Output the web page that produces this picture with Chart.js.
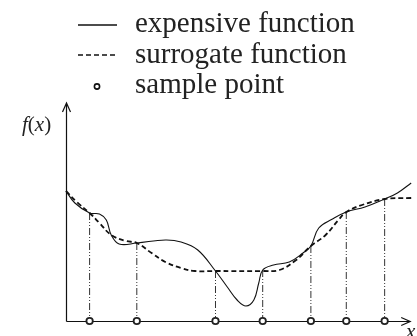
<!DOCTYPE html>
<html>
<head>
<meta charset="utf-8">
<script src="https://cdn.jsdelivr.net/npm/chart.js@4/dist/chart.umd.min.js"></script>
<style>
  html, body { margin: 0; padding: 0; background: #fff; }
  #wrap { position: relative; width: 417px; height: 336px; overflow: hidden; }
  #c { position: absolute; left: 0; top: 0; }
  .lbl { position: absolute; font-family: "Liberation Serif", "DejaVu Serif", serif; color: #222; white-space: nowrap; }
  #legend { position: absolute; left: 0; top: 7px; }
  .row { position: relative; height: 30.5px; line-height: 30.5px; font-size: 29px; font-family: "Liberation Serif", serif; color: #222; }
  .row span { position: absolute; left: 135px; top: 0; white-space: nowrap; }
  .row svg { position: absolute; left: 76px; top: 0; }
</style>
</head>
<body>
<div id="wrap">
  <canvas id="c" width="417" height="336"></canvas>
  <div id="legend">
    <div class="row"><svg width="44" height="30"><line x1="2" y1="18" x2="41" y2="18" stroke="#111" stroke-width="1.4"/></svg><span>expensive function</span></div>
    <div class="row"><svg width="44" height="30"><line x1="2" y1="17" x2="40" y2="17" stroke="#111" stroke-width="1.6" stroke-dasharray="5,3"/></svg><span>surrogate function</span></div>
    <div class="row"><svg width="44" height="30"><circle cx="21" cy="18.5" r="2.6" fill="#fff" stroke="#111" stroke-width="1.6"/></svg><span>sample point</span></div>
  </div>
  <div class="lbl" style="left:22px; top:111px; font-size:21px; line-height:26px;"><i>f</i>(<i>x</i>)</div>
  <div class="lbl" style="left:406px; top:318px; font-size:21px; line-height:26px;"><i>x</i></div>
</div>
<script>
// Expensive function (solid curve)
const expX = [0, 9, 24, 34, 41, 46, 54, 72, 101, 117, 134, 152, 164, 174, 183, 191, 196, 200, 211, 227, 241, 249, 257, 271, 285, 304, 324, 337, 351];
const expY = [130, 118, 108, 107, 101, 86, 77, 78, 81, 79, 71, 50, 34, 21, 15, 21, 38, 51, 56, 59, 68, 75, 93, 102, 109, 114, 122, 128, 138];
// Surrogate function (dashed curve)
const surX = [0, 11, 24, 34, 46, 61, 72, 87, 101, 117, 131, 152, 200, 217, 234, 249, 264, 277, 285, 301, 324, 351];
const surY = [130, 119, 108, 98, 86, 80, 78, 68, 59, 53, 50, 50, 50, 51, 61, 75, 86, 101, 109, 116, 122, 123];
// Sample points
const sampleX = [24, 72, 152, 200, 249, 285, 324];
const sampleY = [108, 78, 50, 51, 75, 109, 122];

const toPts = (xs, ys) => xs.map((x, i) => ({ x: x, y: ys[i] }));

const datasets = [];
datasets.push({
  label: 'sample point',
  data: sampleX.map(x => ({ x: x, y: 0 })),
  showLine: false,
  pointRadius: 3.2,
  pointBorderWidth: 1.8,
  pointBorderColor: '#222',
  pointBackgroundColor: '#fff',
  clip: false,
  order: 0
});
datasets.push({
  label: 'expensive function',
  data: toPts(expX, expY),
  borderColor: '#111',
  borderWidth: 1.1,
  pointRadius: 0,
  tension: 0.4,
  fill: false,
  clip: false,
  order: 2
});
datasets.push({
  label: 'surrogate function',
  data: toPts(surX, surY),
  borderColor: '#111',
  borderWidth: 1.8,
  borderDash: [5, 3],
  pointRadius: 0,
  tension: 0.4,
  fill: false,
  clip: false,
  order: 3
});
sampleX.forEach((x, i) => {
  datasets.push({
    label: 'drop' + i,
    data: [{ x: x, y: sampleY[i] }, { x: x, y: 0 }],
    borderColor: '#333',
    borderWidth: 1,
    borderDash: [7, 2, 1, 2, 1, 2],
    pointRadius: 0,
    tension: 0,
    fill: false,
    order: 4
  });
});

const axesPlugin = {
  id: 'axes',
  beforeDatasetsDraw(chart) {
    const ctx = chart.ctx;
    const xs = chart.scales.x, ys = chart.scales.y;
    const x0 = Math.round(xs.getPixelForValue(0)) + 0.5;
    const y0 = Math.round(ys.getPixelForValue(0)) + 0.5;
    const yTop = ys.getPixelForValue(ys.max) - 2;
    const xEnd = xs.getPixelForValue(xs.max) - 1;
    ctx.save();
    ctx.strokeStyle = '#111';
    ctx.lineWidth = 1.2;
    ctx.beginPath();
    ctx.moveTo(x0, y0); ctx.lineTo(x0, yTop);
    ctx.moveTo(x0, y0); ctx.lineTo(xEnd, y0);
    // arrow heads
    ctx.moveTo(x0 - 4, yTop + 9); ctx.lineTo(x0, yTop); ctx.lineTo(x0 + 4, yTop + 9);
    ctx.moveTo(xEnd - 9, y0 - 4); ctx.lineTo(xEnd, y0); ctx.lineTo(xEnd - 9, y0 + 4);
    ctx.stroke();
    ctx.restore();
  }
};

new Chart(document.getElementById('c'), {
  type: 'line',
  data: { datasets: datasets },
  options: {
    responsive: false,
    animation: false,
    devicePixelRatio: 1,
    layout: { padding: { left: 66, right: 0, top: 105, bottom: 15 } },
    plugins: { legend: { display: false }, tooltip: { enabled: false } },
    scales: {
      x: { type: 'linear', min: 0, max: 351, display: false },
      y: { type: 'linear', min: 0, max: 216, display: false }
    }
  },
  plugins: [axesPlugin]
});
</script>
</body>
</html>
